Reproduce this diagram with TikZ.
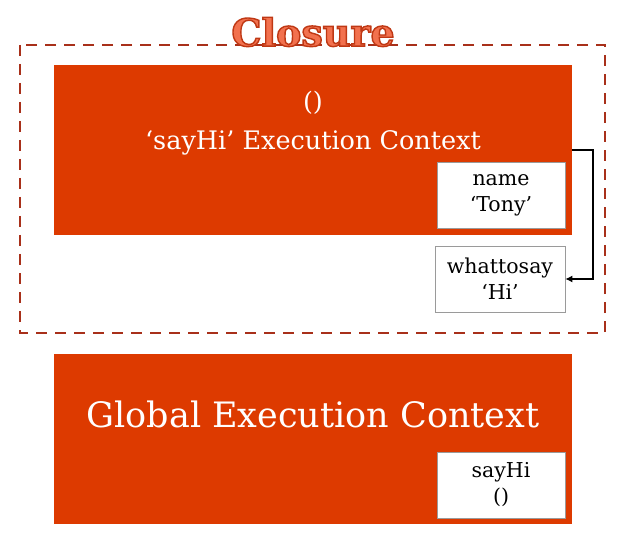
\documentclass[tikz,border=0pt]{standalone}
\usepackage{fontspec}
\setmainfont{DejaVu Serif}
\usetikzlibrary{calc,positioning,arrows.meta}
\definecolor{CtxOrange}{HTML}{DD3A00}
\definecolor{CtxDash}{HTML}{A8301A}
\definecolor{CtxTitle}{HTML}{F2714E}
\definecolor{CtxBorder}{HTML}{9A9A9A}
\tikzset{
  ctx/.style={fill=CtxOrange, draw=none, minimum width=518pt, minimum height=170pt, inner sep=0pt},
  ctxtext/.style={text=white, font=\fontsize{25.5pt}{30pt}\selectfont, align=center},
  varbox/.style={draw=CtxBorder, fill=white, line width=0.6pt, minimum width=128pt, minimum height=66pt,
                 align=center, font=\fontsize{20.5pt}{26pt}\selectfont, inner sep=0pt},
  link/.style={line width=1.8pt, -{Latex[length=7pt,width=7pt]}},
}
% outlined title text
\newcommand{\outlinetitle}[1]{\special{pdf:literal direct 2 Tr 1.4 w 0.75 0.22 0.08 RG}#1\special{pdf:literal direct 0 Tr}}
\begin{document}
\begin{tikzpicture}[x=1pt, y=-1pt]
    \useasboundingbox[fill=white] (0,0) rectangle (640,540);
    % closure boundary
    \draw[CtxDash, line width=2.8pt, dash pattern=on 11pt off 8pt] (20,45) rectangle (605,333);
    % sayHi context
    \node[ctx] (sayhi) at (313,150) {};
    \node[ctxtext] at (313,103) {()};
    \node[ctxtext] at (313,143) {‘sayHi’ Execution Context};
    \node[varbox] (name) at (501,195.5) {name\\‘Tony’};
    \node[varbox, minimum width=130pt] (whattosay) at (500,279) {whattosay\\‘Hi’};
    % global context
    \node[ctx] (global) at (313,439) {};
    \node[ctxtext, font=\fontsize{35pt}{40pt}\selectfont] at (313,414) {Global Execution Context};
    \node[varbox] (sayhivar) at (501,485) {sayHi\\()};
    \draw[link] (sayhi.east) -- ++(21,0) |- (whattosay.east);
    \node[text=CtxTitle, font=\fontsize{38pt}{42pt}\selectfont\bfseries] (title) at (313,32) {\outlinetitle{Closure}};
  \end{tikzpicture}
\end{document}
